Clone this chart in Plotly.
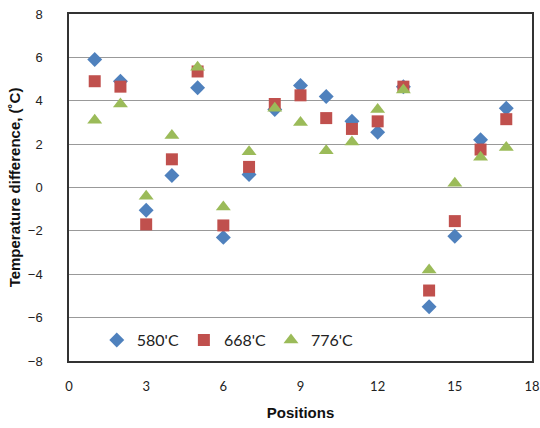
import plotly.graph_objects as go

positions = list(range(1, 18))
t580 = [5.9, 4.9, -1.05, 0.55, 4.6, -2.3, 0.6, 3.6, 4.7, 4.2, 3.05, 2.55, 4.65, -5.5, -2.25, 2.2, 3.65]
t668 = [4.9, 4.65, -1.7, 1.3, 5.35, -1.75, 0.95, 3.85, 4.25, 3.2, 2.7, 3.05, 4.65, -4.75, -1.55, 1.75, 3.15]
t776 = [3.1, 3.85, -0.4, 2.4, 5.55, -0.9, 1.65, 3.65, 3.0, 1.7, 2.1, 3.6, 4.5, -3.8, 0.2, 1.4, 1.85]
names = ["580'C", "668'C", "776'C"]
colors = ["#4F81BD", "#C0504D", "#9BBB59"]
symbols = ["diamond", "square", "triangle-up"]
sizes = [11.5, 12, 13]

fig = go.Figure()
for vals, n, c, s, sz in zip([t580, t668, t776], names, colors, symbols, sizes):
    fig.add_trace(go.Scatter(x=positions, y=vals, mode="markers", name=n,
                             marker=dict(color=c, symbol=s, size=sz, line=dict(width=0))))

fig.update_layout(
    width=540, height=428, margin=dict(l=69, r=8, t=14, b=67),
    plot_bgcolor="white", paper_bgcolor="white",
    showlegend=True,
    legend=dict(orientation="h", x=0.06, y=0.06, xanchor="left", yanchor="middle",
                font=dict(family="Lato", size=16, color="#222"), bgcolor="rgba(0,0,0,0)",
                itemwidth=30, tracegroupgap=0),
    xaxis=dict(range=[0, 18], tickvals=[0, 3, 6, 9, 12, 15, 18], showgrid=False, zeroline=False,
               showline=True, linecolor="#333", linewidth=1.5, mirror=True, ticks="", automargin=False,
               tickfont=dict(family="Lato", size=13, color="#222"), ticklabelstandoff=13,
               title=dict(text="<b>Positions</b>", font=dict(family="Liberation Sans", size=15, color="#111"), standoff=14)),
    yaxis=dict(range=[-8, 8], tickvals=list(range(-8, 9, 2)), showgrid=True, gridcolor="#999", gridwidth=1.2,
               zeroline=False, showline=True, linecolor="#333", linewidth=1.5, mirror=True, ticks="", automargin=False,
               tickfont=dict(family="Liberation Sans", size=13, color="#222"), ticklabelstandoff=22,
               title=dict(text="<b>Temperature difference, (˚C)</b>", font=dict(family="Liberation Sans", size=15, color="#111"), standoff=4)),
)
fig.write_html("out.html")
